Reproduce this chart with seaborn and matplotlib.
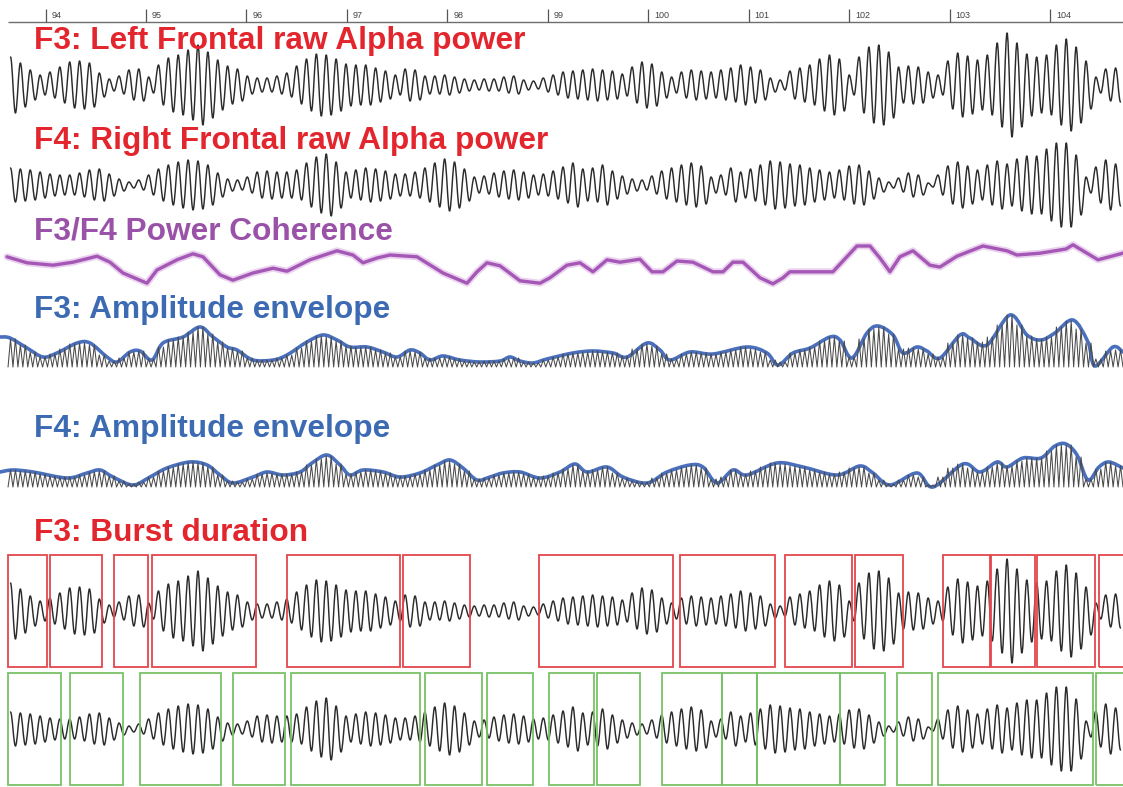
import numpy as np
import matplotlib
matplotlib.use("Agg")
import matplotlib.pyplot as plt
from matplotlib.patches import Rectangle, PathPatch
from matplotlib.path import Path
import seaborn as sns

# ---------------------------------------------------------------- data
# visible time window (s) and the span covered by the recorded traces
T_START, T_END = 93.547, 104.727
SIGNAL_START, SIGNAL_END = 93.627, 104.727

ruler_ticks = [94, 95, 96, 97, 98, 99, 100, 101, 102, 103, 104]

# peak amplitude (uV) of each successive alpha cycle, left frontal (F3)
f3_cycle_amp = [
    28, 22, 15, 10, 13, 18, 23, 24, 22, 12,
    6, 9, 15, 16, 8, 20, 27, 30, 35, 40,
    33, 25, 19, 16, 9, 7, 7, 9, 12, 19,
    26, 31, 30, 26, 21, 20, 20, 17, 14, 10,
    16, 15, 9, 9, 10, 8, 6, 5, 6, 6,
    8, 9, 5, 4, 7, 10, 13, 14, 15, 16,
    15, 14, 11, 18, 23, 21, 13, 8, 13, 15,
    14, 13, 15, 17, 20, 18, 15, 7, 5, 14,
    17, 20, 26, 30, 26, 10, 28, 38, 40, 33,
    18, 19, 18, 13, 10, 24, 32, 29, 25, 30,
    42, 52, 42, 31, 28, 30, 40, 46, 38, 24,
    8, 16, 17,
]

# peak amplitude (uV) of each successive alpha cycle, right frontal (F4)
f4_cycle_amp = [
    17, 16, 15, 13, 11, 10, 10, 12, 15, 16,
    11, 6, 3, 5, 10, 16, 20, 23, 25, 24,
    20, 12, 6, 5, 8, 13, 14, 13, 13, 15,
    22, 28, 31, 23, 13, 15, 17, 16, 14, 11,
    11, 13, 17, 22, 26, 23, 16, 8, 9, 12,
    14, 15, 13, 10, 11, 14, 18, 22, 16, 17,
    20, 14, 9, 6, 5, 9, 14, 17, 20, 22,
    19, 8, 10, 17, 13, 16, 20, 24, 23, 21,
    20, 17, 15, 13, 15, 19, 20, 14, 7, 3,
    7, 12, 10, 2, 10, 19, 23, 19, 15, 20,
    24, 21, 26, 29, 29, 36, 42, 42, 30, 8,
    18, 25, 21,
]

# F3/F4 power coherence
coh_time = [
    93.617, 93.816, 94.075, 94.274, 94.513, 94.642, 94.771, 95.010, 95.110, 95.309,
    95.468, 95.568, 95.737, 95.866, 96.066, 96.265, 96.404, 96.633, 96.902, 97.061,
    97.161, 97.300, 97.429, 97.698, 97.957, 98.196, 98.296, 98.395, 98.525, 98.724,
    98.923, 99.022, 99.191, 99.321, 99.450, 99.590, 99.719, 99.918, 100.038, 100.147,
    100.287, 100.446, 100.645, 100.745, 100.844, 100.944, 101.113, 101.242, 101.342, 101.411,
    101.839, 102.078, 102.208, 102.307, 102.407, 102.506, 102.636, 102.805, 102.905, 103.074,
    103.333, 103.572, 103.671, 103.900, 104.159, 104.229, 104.478, 104.726,
]
coh_value = [
    0.72, 0.62, 0.58, 0.63, 0.73, 0.63, 0.45, 0.28, 0.50, 0.67,
    0.77, 0.72, 0.42, 0.33, 0.45, 0.53, 0.48, 0.67, 0.82, 0.75,
    0.62, 0.70, 0.75, 0.72, 0.45, 0.28, 0.47, 0.62, 0.57, 0.32,
    0.28, 0.37, 0.58, 0.62, 0.47, 0.67, 0.63, 0.68, 0.47, 0.47,
    0.65, 0.63, 0.47, 0.47, 0.63, 0.63, 0.37, 0.27, 0.37, 0.47,
    0.47, 0.90, 0.90, 0.70, 0.47, 0.72, 0.82, 0.58, 0.55, 0.73,
    0.90, 0.82, 0.75, 0.78, 0.85, 0.92, 0.67, 0.78,
]

# amplitude envelope of F3 (uV)
f3_env_time = [
    93.547, 93.647, 93.816, 93.975, 94.114, 94.314, 94.443, 94.612, 94.712, 94.841,
    94.941, 95.060, 95.170, 95.369, 95.538, 95.667, 95.807, 95.906, 96.066, 96.265,
    96.404, 96.603, 96.763, 96.902, 97.031, 97.200, 97.360, 97.499, 97.629, 97.728,
    97.828, 97.957, 98.126, 98.325, 98.525, 98.624, 98.724, 98.853, 98.992, 99.251,
    99.450, 99.649, 99.789, 99.988, 100.117, 100.217, 100.416, 100.645, 100.983, 101.182,
    101.292, 101.441, 101.611, 101.810, 101.909, 102.029, 102.178, 102.288, 102.437, 102.536,
    102.676, 102.775, 102.905, 103.104, 103.203, 103.373, 103.602, 103.771, 103.910, 104.049,
    104.229, 104.378, 104.448, 104.627, 104.726,
]
f3_env_amp = [
    30, 29, 19, 10, 14, 24, 24, 10, 5, 15,
    16, 7, 24, 30, 40, 30, 20, 17, 7, 7,
    12, 25, 32, 27, 20, 20, 15, 10, 17, 14,
    7, 11, 7, 5, 6, 10, 6, 4, 8, 14,
    16, 14, 10, 24, 17, 7, 15, 13, 20, 14,
    2, 14, 19, 30, 27, 9, 34, 41, 32, 14,
    20, 16, 9, 32, 29, 22, 52, 32, 27, 34,
    47, 25, 1, 20, 15,
]

# amplitude envelope of F4 (uV)
f4_env_time = [
    93.547, 93.676, 93.876, 94.214, 94.413, 94.543, 94.672, 94.871, 95.040, 95.209,
    95.438, 95.608, 95.737, 95.866, 96.066, 96.205, 96.364, 96.534, 96.653, 96.802,
    96.932, 97.031, 97.161, 97.360, 97.529, 97.728, 97.897, 98.027, 98.156, 98.295,
    98.425, 98.554, 98.724, 98.923, 99.122, 99.271, 99.391, 99.590, 99.749, 99.988,
    100.187, 100.416, 100.545, 100.685, 100.844, 100.983, 101.282, 101.541, 101.879, 102.108,
    102.238, 102.407, 102.676, 102.835, 103.134, 103.303, 103.472, 103.572, 103.731, 103.910,
    104.049, 104.159, 104.269, 104.378, 104.488, 104.587, 104.726,
]
f4_env_amp = [
    15, 17, 15, 9, 14, 17, 10, 2, 10, 19,
    25, 22, 12, 4, 10, 15, 12, 15, 24, 32,
    22, 12, 17, 15, 10, 14, 22, 27, 19, 7,
    10, 14, 15, 9, 15, 23, 15, 20, 10, 4,
    15, 22, 20, 4, 17, 12, 24, 20, 12, 21,
    14, 2, 14, 0, 23, 15, 25, 20, 29, 29,
    41, 43, 32, 7, 20, 25, 19,
]

# detected burst intervals (start, end) in s
f3_bursts = [
    (93.627, 94.015), (94.045, 94.562), (94.682, 95.020), (95.060, 96.096),
    (96.404, 97.529), (97.559, 98.226), (98.913, 100.247), (100.317, 101.262),
    (101.362, 102.029), (102.059, 102.537), (102.935, 103.403), (103.413, 103.851),
    (103.870, 104.448), (104.488, 104.796),
]
f4_bursts = [
    (93.627, 94.154), (94.244, 94.771), (94.941, 95.747), (95.867, 96.384),
    (96.444, 97.728), (97.778, 98.345), (98.395, 98.853), (99.012, 99.460),
    (99.490, 99.918), (100.137, 100.735), (100.735, 101.083), (101.083, 101.909),
    (101.909, 102.357), (102.477, 102.825), (102.885, 104.428), (104.458, 104.796),
]

titles = [
    "F3: Left Frontal raw Alpha power",
    "F4: Right Frontal raw Alpha power",
    "F3/F4 Power Coherence",
    "F3: Amplitude envelope",
    "F4: Amplitude envelope",
    "F3: Burst duration",
]

# ---------------------------------------------------------------- style
sns.set_style("white")
plt.rcParams["font.family"] = ["Liberation Sans", "DejaVu Sans"]

RED = "#e3262d"
PURPLE = "#9a52a8"
BLUE = "#3d6bb3"
TRACE = "#2b2b2b"
ENV = "#4a70bd"

W, H = 1123, 787
fig = plt.figure(figsize=(W / 100, H / 100), dpi=100)
fig.patch.set_facecolor("white")


def band(top, bottom):
    """A transparent full-width axes covering pixel rows top..bottom."""
    ax = fig.add_axes([0, 1 - bottom / H, 1, (bottom - top) / H])
    ax.set_xlim(T_START, T_END)
    ax.axis("off")
    return ax


def wave(amps):
    """Alternating positive / negative extremes of each cycle."""
    a = np.asarray(amps, dtype=float)
    edges = np.linspace(SIGNAL_START, SIGNAL_END, len(a) + 1)
    w = np.diff(edges)
    t = np.column_stack([edges[:-1] + 0.25 * w, edges[:-1] + 0.75 * w]).ravel()
    v = np.column_stack([a, -a]).ravel()
    return t, v


def rectified(amps):
    """Full-wave rectified cycles: two humps per cycle from the baseline."""
    a = np.asarray(amps, dtype=float)
    edges = np.linspace(SIGNAL_START, SIGNAL_END, len(a) + 1)
    w = np.diff(edges)
    t = np.column_stack([edges[:-1], edges[:-1] + 0.25 * w,
                         edges[:-1] + 0.5 * w, edges[:-1] + 0.75 * w]).ravel()
    z = np.zeros_like(a)
    v = np.column_stack([z, a, z, a]).ravel()
    return np.append(t, edges[-1]), np.append(v, 0.0)


def line(ax, x, y, **kw):
    sns.lineplot(x=x, y=y, ax=ax, estimator=None, sort=False, legend=False, **kw)
    ln = ax.lines[-1]
    ln.set_clip_on(False)
    ln.set_solid_joinstyle("round")
    ln.set_solid_capstyle("round")
    return ln


def extremes_curve(ax, t, v, **kw):
    """Smooth stroke through successive extremes (flat tangent at each one)."""
    verts = [(t[0], v[0])]
    codes = [Path.MOVETO]
    for i in range(1, len(t)):
        d = t[i] - t[i - 1]
        verts += [(t[i - 1] + 0.363 * d, v[i - 1]),
                  (t[i] - 0.363 * d, v[i]),
                  (t[i], v[i])]
        codes += [Path.CURVE4] * 3
    ax.add_patch(PathPatch(Path(verts, codes), fill=False, clip_on=False,
                           capstyle="round", joinstyle="round", **kw))


def knot_curve(ax, t, v, **kw):
    """Smooth stroke passing through every knot (Catmull-Rom segments)."""
    p = np.column_stack([t, v]).astype(float)
    p = np.vstack([p[0], p, p[-1]])
    verts = [tuple(p[1])]
    codes = [Path.MOVETO]
    for i in range(1, len(p) - 2):
        c1 = p[i] + (p[i + 1] - p[i - 1]) / 6.0
        c2 = p[i + 1] - (p[i + 2] - p[i]) / 6.0
        verts += [tuple(c1), tuple(c2), tuple(p[i + 1])]
        codes += [Path.CURVE4] * 3
    ax.add_patch(PathPatch(Path(verts, codes), fill=False, clip_on=False,
                           capstyle="round", joinstyle="round", **kw))


# ---------------------------------------------------------------- time ruler
ax_r = band(0, 30)
ax_r.set_ylim(30, 0)
ax_r.hlines(22, SIGNAL_START, T_END, color="#6e6e6e", lw=1.0)
ax_r.vlines(ruler_ticks, 9, 22, color="#555555", lw=0.9)
for tk in ruler_ticks:
    ax_r.text(tk + 0.06, 15.5, str(tk), fontsize=6.5, color="#444444",
              va="center", ha="left")

# ---------------------------------------------------------------- raw alpha
ax1 = band(25, 145)
ax1.set_ylim(-60, 60)
extremes_curve(ax1, *wave(f3_cycle_amp), edgecolor=TRACE, linewidth=1.05)

ax2 = band(125, 245)
ax2.set_ylim(-60, 60)
extremes_curve(ax2, *wave(f4_cycle_amp), edgecolor=TRACE, linewidth=1.05)

# ---------------------------------------------------------------- coherence
ax3 = band(240, 300)
ax3.set_ylim(0, 1)
line(ax3, coh_time, coh_value, color="#ead2ef", linewidth=5.0)
line(ax3, coh_time, coh_value, color="#a457b5", linewidth=2.4)

# ---------------------------------------------------------------- envelopes
for top, amps, env_t, env_a in [
    (307, f3_cycle_amp, f3_env_time, f3_env_amp),
    (427, f4_cycle_amp, f4_env_time, f4_env_amp),
]:
    ax = band(top, top + 60)
    ax.set_ylim(0, 60)
    line(ax, *rectified(amps), color="#4a4a4a", linewidth=0.75)
    knot_curve(ax, env_t, env_a, edgecolor=ENV, linewidth=2.6)

# ---------------------------------------------------------------- bursts
for top, bottom, amps, bursts, col in [
    (555, 667, f3_cycle_amp, f3_bursts, "#e5464d"),
    (673, 785, f4_cycle_amp, f4_bursts, "#79c267"),
]:
    ax = band(top, bottom)
    half = (bottom - top) / 2
    ax.set_ylim(-half, half)
    extremes_curve(ax, *wave(amps), edgecolor=TRACE, linewidth=1.05)
    for s, e in bursts:
        ax.add_patch(Rectangle((s, -half), e - s, 2 * half, fill=False,
                               edgecolor=col, linewidth=1.3, clip_on=False))

# ---------------------------------------------------------------- titles
title_pos = [(34, 49), (34, 149), (34, 240), (34, 318), (34, 437), (34, 541)]
title_col = [RED, RED, PURPLE, BLUE, BLUE, RED]
for text, (x, y), c in zip(titles, title_pos, title_col):
    fig.text(x / W, 1 - y / H, text, fontsize=22.8, fontweight="bold",
             color=c, ha="left", va="baseline")

fig.savefig("out.png", dpi=100, facecolor="white")
